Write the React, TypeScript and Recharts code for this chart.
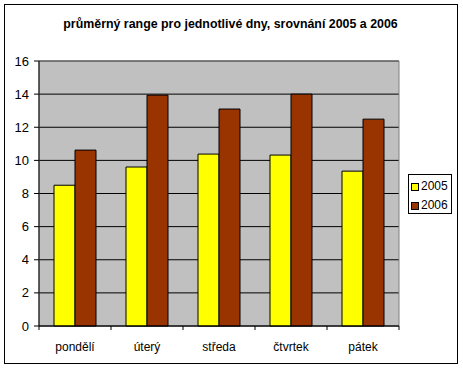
import { BarChart, Bar, XAxis, YAxis, CartesianGrid, ReferenceArea } from 'recharts';

const days = ['pondělí', 'úterý', 'středa', 'čtvrtek', 'pátek'];
const range2005 = [8.5, 9.6, 10.38, 10.32, 9.35];
const range2006 = [10.62, 13.94, 13.1, 14.0, 12.49];
const yTicks = [0, 2, 4, 6, 8, 10, 12, 14, 16];
const seriesNames = ['2005', '2006'];
const seriesColors = ['#FFFF00', '#993300'];

const data = days.map((day, i) => ({ day, y2005: range2005[i], y2006: range2006[i] }));

const FONT = '"Liberation Sans", Arial, sans-serif';
const BAND = (463 - 39 - 64) / days.length;

const DayTick = (props: any) => {
  const { x, y, payload, index } = props;
  const top = y - 8; // axis line
  return (
    <g>
      <line x1={x - BAND / 2} y1={top} x2={x - BAND / 2} y2={top + 4} stroke="#000" />
      {index === days.length - 1 && (
        <line x1={x + BAND / 2} y1={top} x2={x + BAND / 2} y2={top + 4} stroke="#000" />
      )}
      <text x={x} y={top + 25} textAnchor="middle" fontSize={12} fontFamily={FONT} fill="#000">
        {payload.value}
      </text>
    </g>
  );
};

const LegendBox = () => (
  <div style={{
    position: 'absolute',
    left: 408,
    top: 174,
    border: '1px solid #000',
    width: 44,
    height: 40,
    padding: '2px 0 0 2px',
    boxSizing: 'border-box',
    background: '#fff',
    fontFamily: FONT,
    fontSize: 12,
    lineHeight: '19px',
  }}>
    {seriesNames.map((name, i) => (
      <div key={name} style={{ display: 'flex', alignItems: 'center' }}>
        <span style={{ width: 6, height: 6, border: '1px solid #000', background: seriesColors[i], marginRight: 2 }} />
        <span>{name}</span>
      </div>
    ))}
  </div>
);

export default function App() {
  return (
    <div style={{ position: 'absolute', left: 0, top: 0, width: 463, height: 369, background: '#fff' }}>
      <div style={{ position: 'absolute', left: 4, top: 4, width: 452, height: 358, border: '1px solid #000' }} />
      <div style={{
        position: 'absolute', left: 0, top: 17, width: 461, textAlign: 'center',
        fontFamily: FONT, fontWeight: 'bold', fontSize: 12.4, color: '#000',
      }}>
        průměrný range pro jednotlivé dny, srovnání 2005 a 2006
      </div>
      <div style={{ position: 'absolute', left: 0, top: 0 }}>
        <BarChart
          width={463}
          height={369}
          data={data}
          margin={{ top: 61, right: 64, bottom: 13, left: 0 }}
          barCategoryGap={15}
          barGap={0}
        >
          <CartesianGrid vertical={false} stroke="#000" fill="#C0C0C0" fillOpacity={1} />
          <ReferenceArea y1={0} y2={16} fill="none" stroke="#808080" ifOverflow="visible" />
          <XAxis
            dataKey="day"
            height={30}
            axisLine={{ stroke: '#000' }}
            tickLine={false}
            tick={<DayTick />}
            interval={0}
          />
          <YAxis
            width={39}
            domain={[0, 16]}
            ticks={yTicks}
            axisLine={{ stroke: '#000' }}
            tickLine={{ stroke: '#000' }}
            tickSize={5}
            tickMargin={5}
            tick={{ fill: '#000', fontSize: 13, fontFamily: FONT }}
          />
          <Bar dataKey="y2005" name={seriesNames[0]} fill={seriesColors[0]} stroke="#000" strokeWidth={1} isAnimationActive={false} />
          <Bar dataKey="y2006" name={seriesNames[1]} fill={seriesColors[1]} stroke="#000" strokeWidth={1} isAnimationActive={false} />
        </BarChart>
      </div>
      <LegendBox />
    </div>
  );
}
